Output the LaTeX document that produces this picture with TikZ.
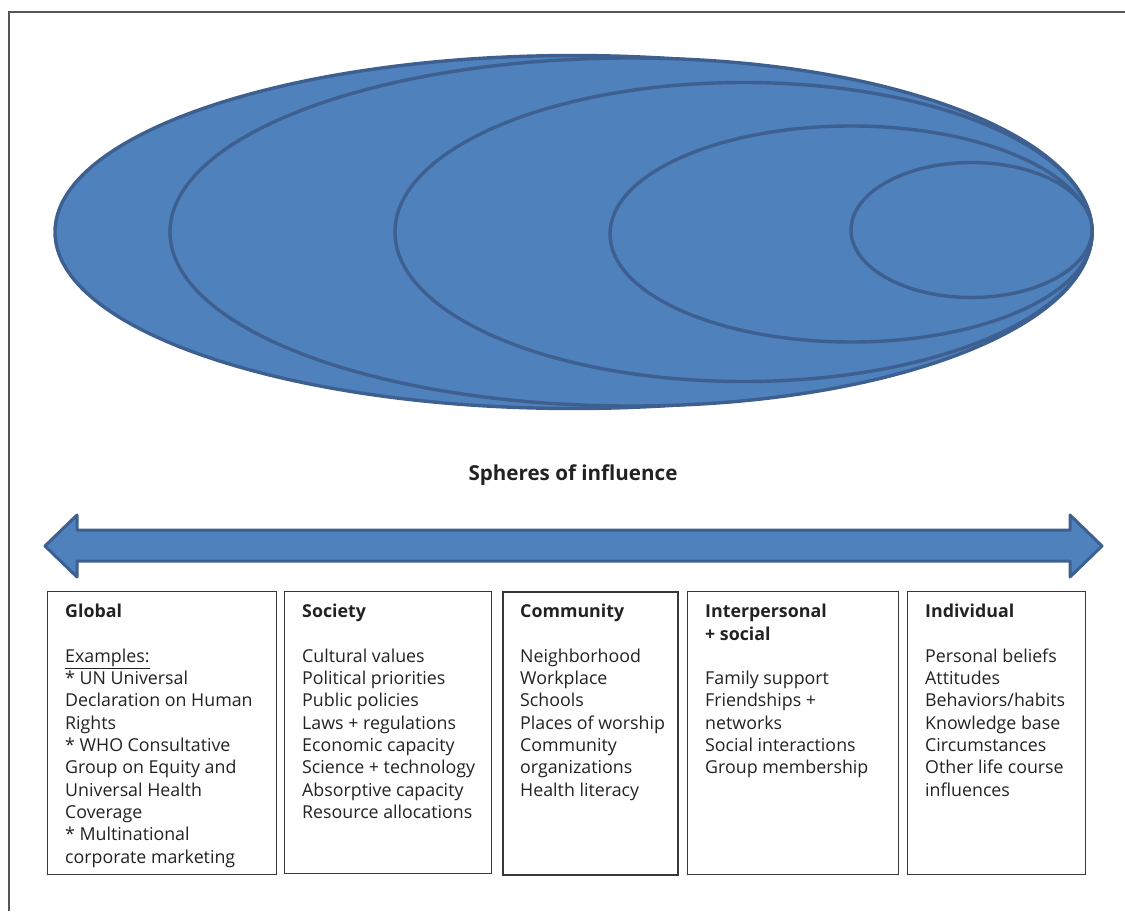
\documentclass[tikz,border=0pt]{standalone}
\usepackage{fontspec}
\setmainfont{Open Sans}
\usepackage{tikz}
\usetikzlibrary{shapes.geometric}
\definecolor{sphfill}{HTML}{4F81BD}
\definecolor{sphline}{HTML}{3D6090}
\definecolor{frameline}{HTML}{555555}
\definecolor{ink}{HTML}{222222}

\begin{document}
\begin{tikzpicture}[x=1pt,y=-1pt,
  sphere/.style={ellipse,draw=sphline,fill=sphfill,line width=3.4pt,inner sep=0pt},
  panel/.style={draw=ink!90,line width=1.2pt,anchor=north west,inner sep=0pt},
  txt/.style={anchor=north west,align=left,inner sep=0pt,text=ink,font=\fontsize{17.8}{22.3}\selectfont}
]
\useasboundingbox (0,0) rectangle (1125,911);
\draw[frameline,line width=1.5pt] (9,911) -- (9,12) -- (1125,12);

\node[sphere,minimum width=1037pt,minimum height=353pt] (glob) at (573.5,232) {};
\node[sphere,minimum width=922pt,minimum height=348pt] (soc) at (631,232) {};
\node[sphere,minimum width=697pt,minimum height=299pt] (comm) at (743.5,232) {};
\node[sphere,minimum width=482pt,minimum height=216pt] (inter) at (851,234) {};
\node[sphere,minimum width=241pt,minimum height=135pt] (indiv) at (971.5,230) {};

\node[font=\fontsize{20.6}{24}\selectfont\bfseries,text=ink] (title) at (573,475) {Spheres of influence};

\draw[draw=sphline,fill=sphfill,line width=3pt,line join=round]
  (45,546) -- (77,515) -- (77,530) -- (1070,530) -- (1070,515) -- (1102,546)
  -- (1070,577) -- (1070,561) -- (77,561) -- (77,577) -- cycle;

\node[panel,minimum width=229pt,minimum height=283pt] (gbox) at (47,591) {};
\node[panel,minimum width=207pt,minimum height=282pt] (sbox) at (284,591) {};
\node[panel,minimum width=175pt,minimum height=283pt,line width=1.8pt] (cbox) at (502,591) {};
\node[panel,minimum width=211pt,minimum height=283pt] (ibox) at (687,591) {};
\node[panel,minimum width=178pt,minimum height=283pt] (dbox) at (907,591) {};

\node[txt] (gtxt) at ([xshift=18pt,yshift=-13pt]gbox.north west)
  {\textbf{Global}\\[22.3pt]
   \underline{Examples:}\\
   * UN Universal\\
   Declaration on Human\\
   Rights\\
   * WHO Consultative\\
   Group on Equity and\\
   Universal Health\\
   Coverage\\
   * Multinational\\
   corporate marketing};
\node[txt] (stxt) at ([xshift=18pt,yshift=-13pt]sbox.north west)
  {\textbf{Society}\\[22.3pt]
   Cultural values\\
   Political priorities\\
   Public policies\\
   Laws + regulations\\
   Economic capacity\\
   Science + technology\\
   Absorptive capacity\\
   Resource allocations};
\node[txt] (ctxt) at ([xshift=18pt,yshift=-13pt]cbox.north west)
  {\textbf{Community}\\[22.3pt]
   Neighborhood\\
   Workplace\\
   Schools\\
   Places of worship\\
   Community\\
   organizations\\
   Health literacy};
\node[txt] (itxt) at ([xshift=18pt,yshift=-13pt]ibox.north west)
  {\textbf{Interpersonal}\\
   \textbf{+ social}\\[22.3pt]
   Family support\\
   Friendships +\\
   networks\\
   Social interactions\\
   Group membership};
\node[txt] (dtxt) at ([xshift=18pt,yshift=-13pt]dbox.north west)
  {\textbf{Individual}\\[22.3pt]
   Personal beliefs\\
   Attitudes\\
   Behaviors/habits\\
   Knowledge base\\
   Circumstances\\
   Other life course\\
   influences};
\end{tikzpicture}
\end{document}
